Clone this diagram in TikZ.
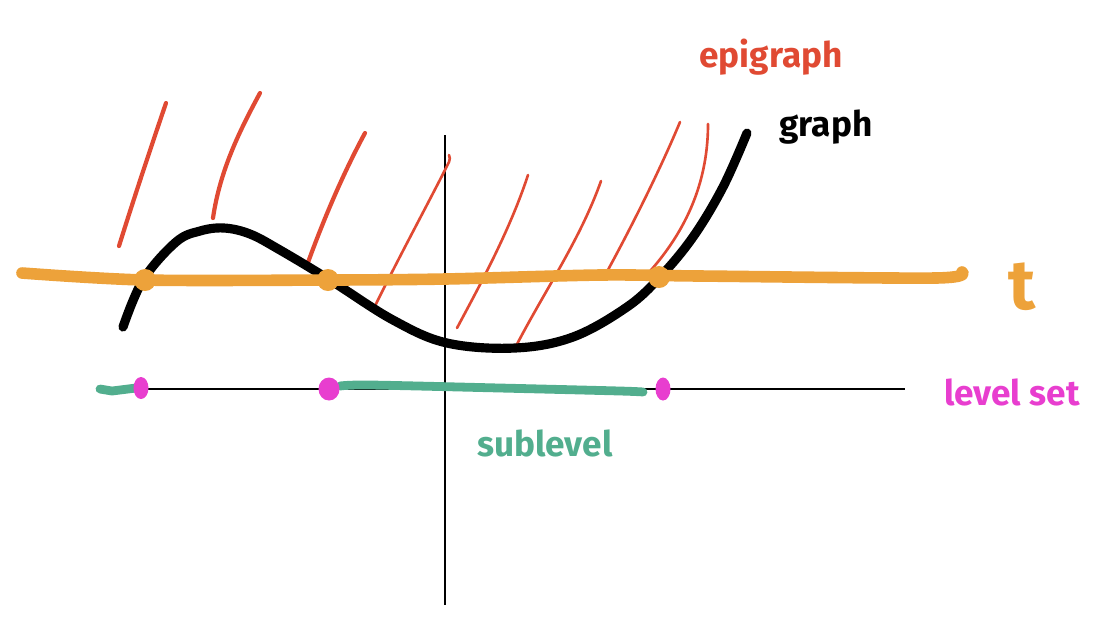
\documentclass[tikz,border=0pt]{standalone}
\usepackage{fontspec}
\setsansfont{Fira Sans}
\usepackage{xcolor}
\definecolor{epired}{HTML}{E04A33}
\definecolor{lvlorange}{HTML}{EDA23A}
\definecolor{setpink}{HTML}{E83ECF}
\definecolor{subgreen}{HTML}{52AE8E}
\tikzset{
  hatch/.style={epired,line width=1.2pt,line cap=round},
  hatchthin/.style={epired,line width=0.75pt,line cap=round},
  handtext/.style={font=\sffamily\bfseries\fontsize{10}{12}\selectfont,inner sep=0pt}
}

\begin{document}
\begin{tikzpicture}[x=0.01cm,y=-0.01cm,line join=round]
    \useasboundingbox (0,0) rectangle (1118,632);
    \draw[line width=0.8pt] (445,135) -- (445,605);
    \draw[line width=0.8pt] (100,389) -- (905,389);
    \draw[hatch] (119,246) .. controls (135,195) and (150,150) .. (166,103);
    \draw[hatch] (213,218) .. controls (220,170) and (240,130) .. (260,93);
    \draw[hatch] (306,268) .. controls (325,215) and (345,170) .. (365,133);
    \draw[hatchthin] (374,308) .. controls (400,255) and (430,200) .. (449,162) .. controls (450,158) .. (449,155);
    \draw[hatchthin] (457,328) .. controls (480,285) and (510,230) .. (528,175);
    \draw[hatchthin] (515,348) .. controls (545,290) and (580,240) .. (601,181);
    \draw[hatchthin] (603,279) .. controls (630,230) and (660,170) .. (680,122);
    \draw[hatchthin] (642,280) .. controls (680,240) and (708,190) .. (708,124);
    \draw[line width=2.6pt,line cap=round] plot[smooth,tension=0.6] coordinates {(123,327) (143,280) (176,242) (200,231) (224,228) (250,234) (280,250) (330,280) (393,320) (447,343) (515,348) (573,337) (627,307) (660,277) (693,237) (723,187) (747,133)};
    \draw[lvlorange,line width=3.3pt,line cap=round] plot[smooth,tension=0.5] coordinates {(22,273) (145,280) (330,280) (445,279) (600,275) (700,276) (935,278) (962,272)};
    \fill[lvlorange] (145,280) circle[radius=0.11cm];
    \fill[lvlorange] (328,280) circle[radius=0.11cm];
    \fill[lvlorange] (659,277) circle[radius=0.11cm];
    \draw[subgreen,line width=2.5pt,line cap=round] (100,389) -- (112,391) -- (136,388);
    \draw[subgreen,line width=2.5pt,line cap=round] plot[smooth] coordinates {(340,386) (370,385) (500,388) (620,391) (643,392)};
    \fill[setpink] (141,388) ellipse[x radius=0.075cm,y radius=0.11cm];
    \fill[setpink] (329,389) ellipse[x radius=0.105cm,y radius=0.115cm];
    \fill[setpink] (663,389) ellipse[x radius=0.075cm,y radius=0.115cm];
    \node[handtext,text=epired] (epigraph) at (771,57) {epigraph};
    \node[handtext,text=black] (graphlbl) at (826,127) {graph};
    \node[handtext,text=lvlorange,font=\sffamily\bfseries\fontsize{20}{24}\selectfont] (tlbl) at (1022,287) {t};
    \node[handtext,text=setpink] (levelset) at (1012,392) {level set};
    \node[handtext,text=subgreen] (sublevel) at (545,443) {sublevel};
\end{tikzpicture}
\end{document}
